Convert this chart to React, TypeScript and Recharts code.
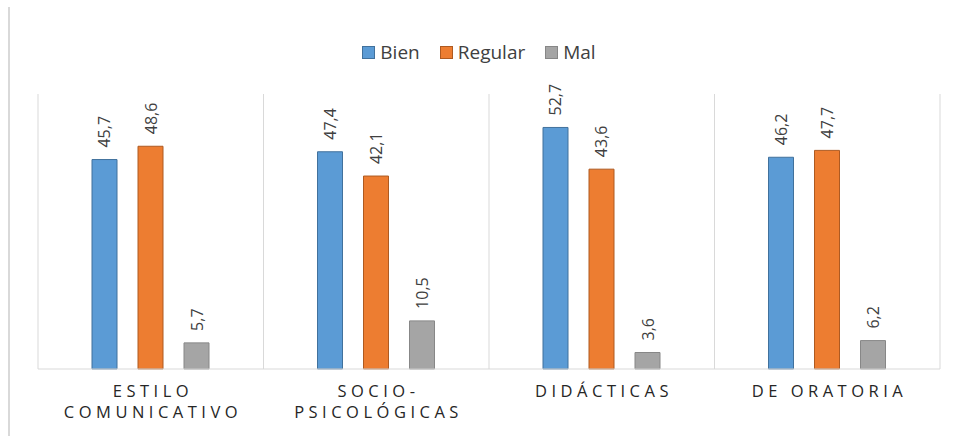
import { BarChart, Bar, XAxis, YAxis, CartesianGrid, Legend, LabelList } from 'recharts'

const categories = ['ESTILO COMUNICATIVO', 'SOCIO-PSICOLÓGICAS', 'DIDÁCTICAS', 'DE ORATORIA']
const tickLines = [['ESTILO', 'COMUNICATIVO'], ['SOCIO-', 'PSICOLÓGICAS'], ['DIDÁCTICAS'], ['DE ORATORIA']]
const bien = [45.7, 47.4, 52.7, 46.2]
const regular = [48.6, 42.1, 43.6, 47.7]
const mal = [5.7, 10.5, 3.6, 6.2]

const series = [
  { key: 'bien', name: 'Bien', fill: '#5b9bd5', stroke: '#41719c' },
  { key: 'regular', name: 'Regular', fill: '#ed7d31', stroke: '#ae5a21' },
  { key: 'mal', name: 'Mal', fill: '#a5a5a5', stroke: '#878787' },
]

const data = categories.map((c, i) => ({
  category: c,
  bien: bien[i],
  regular: regular[i],
  mal: mal[i],
}))

const FONT = '"Open Sans", sans-serif'

function fmt(v: number) {
  return v.toFixed(1).replace('.', ',')
}

function ValueLabel(props: any) {
  const { x, y, width, value } = props
  const cx = x + width / 2
  const ty = y - 12
  return (
    <text
      x={cx}
      y={ty}
      transform={`rotate(-90 ${cx} ${ty})`}
      textAnchor="start"
      dominantBaseline="central"
      fontSize={16}
      fontFamily={FONT}
      fill="#404040"
    >
      {fmt(value)}
    </text>
  )
}

function CategoryTick(props: any) {
  const { x, y, index } = props
  const lines = tickLines[index] || []
  return (
    <g>
      {lines.map((line, i) => (
        <text
          key={i}
          x={x + 2.25}
          y={y + 20 + i * 21}
          textAnchor="middle"
          fontSize={16.5}
          fontFamily={FONT}
          fill="#262626"
          style={{ letterSpacing: '4.5px' }}
        >
          {line}
        </text>
      ))}
    </g>
  )
}

function LegendContent() {
  return (
    <div style={{ display: 'flex', justifyContent: 'center', height: 24, alignItems: 'center', fontFamily: FONT, fontSize: 19, color: '#404040' }}>
      {series.map((s) => (
        <div key={s.key} style={{ display: 'flex', alignItems: 'center', marginRight: 20 }}>
          <span
            style={{
              display: 'inline-block',
              width: 11,
              height: 11,
              background: s.fill,
              border: `1px solid ${s.stroke}`,
              marginRight: 5,
            }}
          />
          <span>{s.name}</span>
        </div>
      ))}
    </div>
  )
}

export default function App() {
  return (
    <div style={{ position: 'absolute', left: 0, top: 0, width: 958, height: 436, background: '#fff' }}>
      <div style={{ position: 'absolute', left: 8, top: 7, width: 2, height: 429, background: '#d9d9d9' }} />
      <BarChart
        width={958}
        height={436}
        data={data}
        margin={{ top: 70, right: 18, bottom: 0, left: 38 }}
        barSize={25}
        barGap={21}
      >
        <CartesianGrid
          horizontal={false}
          stroke="#d9d9d9"
          verticalCoordinatesGenerator={({ offset }: any) =>
            [0, 1, 2, 3, 4].map((i) => offset.left + (i * offset.width) / 4)
          }
        />
        <XAxis
          dataKey="category"
          height={67}
          axisLine={{ stroke: '#d9d9d9' }}
          tickLine={false}
          tick={<CategoryTick />}
          interval={0}
        />
        <YAxis hide domain={[0, 60]} />
        <Legend
          verticalAlign="top"
          content={<LegendContent />}
          wrapperStyle={{ top: 40 }}
        />
        {series.map((s) => (
          <Bar key={s.key} dataKey={s.key} name={s.name} fill={s.fill} stroke={s.stroke} strokeWidth={1} isAnimationActive={false}>
            <LabelList dataKey={s.key} content={<ValueLabel />} />
          </Bar>
        ))}
      </BarChart>
    </div>
  )
}
